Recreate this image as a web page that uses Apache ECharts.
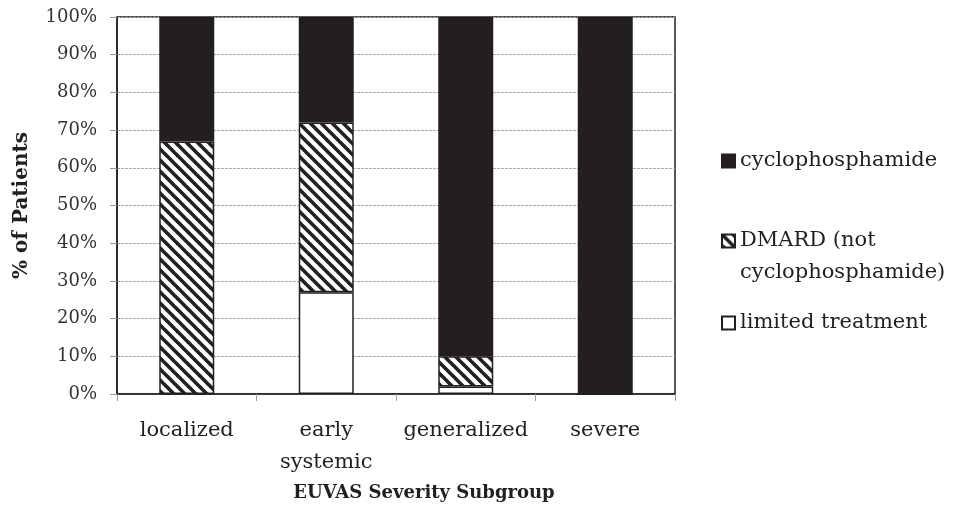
<!DOCTYPE html>
<html>
<head>
<meta charset="utf-8">
<script src="https://cdn.jsdelivr.net/npm/echarts@6/dist/echarts.min.js"></script>
<style>html,body{margin:0;padding:0;background:#fff;}#chart{width:962px;height:509px;}</style>
</head>
<body>
<div id="chart"></div>
<script>
var categories = ['localized', 'early\nsystemic', 'generalized', 'severe'];
var limitedTreatment = [0, 27, 2, 0];
var dmard = [67, 45, 8, 0];
var cyclophosphamide = [33, 28, 90, 100];
var yTicks = [0, 10, 20, 30, 40, 50, 60, 70, 80, 90, 100];

var FONT = 'DejaVu Serif';
var INK = '#231f20';

// diagonal hatch pattern
var tile = document.createElement('canvas');
tile.width = 11; tile.height = 11;
var c = tile.getContext('2d');
c.fillStyle = '#fff'; c.fillRect(0, 0, 11, 11);
c.strokeStyle = INK; c.lineWidth = 3.6;
[-11, 0, 11].forEach(function (o) {
  c.beginPath(); c.moveTo(o - 2, -2); c.lineTo(o + 13, 13); c.stroke();
});
var hatch = { image: tile, repeat: 'repeat' };

var chart = echarts.init(document.getElementById('chart'));
var seriesBase = { type: 'bar', stack: 'total', barWidth: 55, animation: false };
function legendFor(name, top, fmt) {
  var l = {
    data: [name], left: 716, top: top, orient: 'vertical',
    itemWidth: 13, itemHeight: 13, itemGap: 0, icon: 'rect', selectedMode: false,
    textStyle: { fontFamily: FONT, fontSize: 21, color: INK, lineHeight: 32 }
  };
  if (fmt) l.formatter = fmt;
  return l;
}
chart.setOption({
  backgroundColor: '#fff',
  animation: false,
  grid: { left: 117, right: 287, top: 17, bottom: 115, show: true, borderColor: INK, borderWidth: 1.5, backgroundColor: '#fff' },
  legend: [
    legendFor('cyclophosphamide', 140),
    legendFor('DMARD (not\ncyclophosphamide)', 188, function (n) { return ' \n' + n; }),
    legendFor('limited treatment', 302)
  ],
  xAxis: {
    type: 'category', data: categories, boundaryGap: true,
    axisLine: { lineStyle: { color: INK, width: 1.5 } },
    axisTick: { show: true, length: 7, interval: 0, lineStyle: { color: '#999' } },
    axisLabel: { fontFamily: FONT, fontSize: 21, color: INK, margin: 21, lineHeight: 32, interval: 0 },
    name: 'EUVAS Severity Subgroup', nameLocation: 'middle', nameGap: 88,
    nameTextStyle: { fontFamily: FONT, fontSize: 18, fontWeight: 'bold', color: INK, padding: [0, 0, 0, 56] }
  },
  yAxis: {
    type: 'value', min: 0, max: 100, interval: 10,
    axisLine: { show: true, lineStyle: { color: INK, width: 1.5 } },
    axisTick: { show: true, length: 7, lineStyle: { color: '#999' } },
    splitLine: { show: true, lineStyle: { color: '#aaa', type: [3, 1], width: 1 } },
    axisLabel: { fontFamily: FONT, fontSize: 18, color: '#333', margin: 20,
      formatter: function (v) { return yTicks.indexOf(v) >= 0 ? v + '%' : ''; } },
    name: '% of Patients', nameLocation: 'middle', nameGap: 85,
    nameTextStyle: { fontFamily: FONT, fontSize: 20, fontWeight: 'bold', color: INK }
  },
  series: [
    Object.assign({}, seriesBase, { name: 'limited treatment', data: limitedTreatment,
      itemStyle: { color: '#fff', borderColor: INK, borderWidth: 1.5 } }),
    Object.assign({}, seriesBase, { name: 'DMARD (not\ncyclophosphamide)', data: dmard,
      itemStyle: { color: hatch, borderColor: INK, borderWidth: 1.5 } }),
    Object.assign({}, seriesBase, { name: 'cyclophosphamide', data: cyclophosphamide,
      itemStyle: { color: INK, borderColor: INK, borderWidth: 1.5 } })
  ]
});
</script>
</body>
</html>
